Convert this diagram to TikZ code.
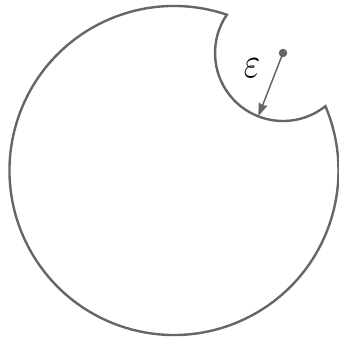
\documentclass[tikz,border=0pt]{standalone}
\usetikzlibrary{arrows.meta,calc}
\definecolor{linegray}{HTML}{666666}
\tikzset{
  outline/.style={draw=linegray, line width=2.4pt, line join=miter},
  radiusarrow/.style={draw=linegray, line width=1.5pt, -{Stealth[length=13pt,width=9pt,inset=1pt]}},
  centerdot/.style={circle, fill=linegray, inner sep=0pt, minimum size=8.5pt},
  lab/.style={text=black, inner sep=0pt, xscale=3.5, yscale=4.3}
}
\begin{document}
\begin{tikzpicture}[x=1pt,y=1pt]
\useasboundingbox (0,0) rectangle (338,344);
\coordinate (C) at (174,173.5);
\coordinate (S) at (283,291);
\draw[outline] ($(C)+(71.28:164.5)$) arc[start angle=71.28, end angle=383.02, radius=164.5]
  arc[start angle=-51.44, end angle=-214.27, radius=68] -- cycle;
\node[centerdot] (dot) at (S) {};
\coordinate (tip) at ($(S)+(248.7:68)$);
\draw[radiusarrow] (S) -- (tip);
\node[lab] (eps) at (252,276) {$\varepsilon$};
\end{tikzpicture}
\end{document}
